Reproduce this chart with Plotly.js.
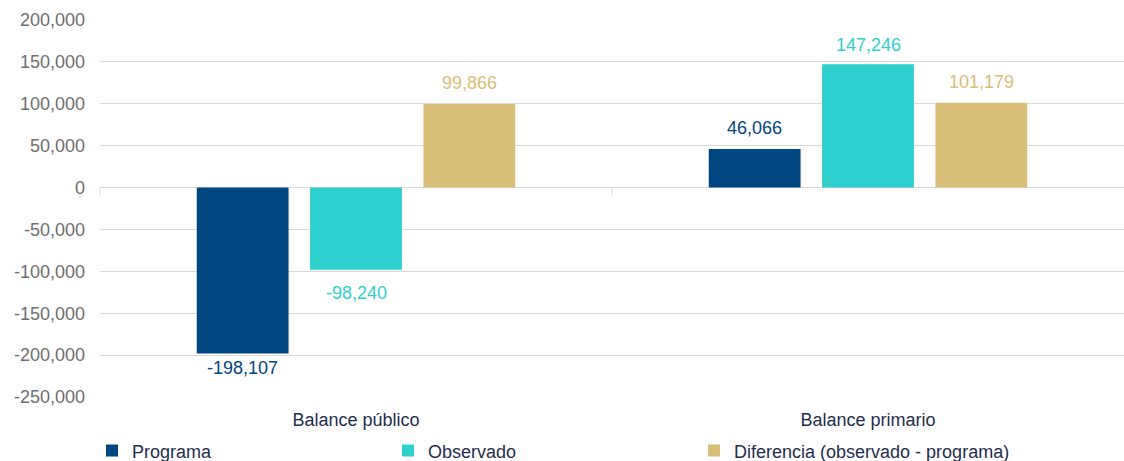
<!DOCTYPE html>
<html><head><meta charset="utf-8">
<script src="https://cdn.plot.ly/plotly-3.0.1.min.js"></script>
<style>html,body{margin:0;padding:0;background:#fff}#c{width:1124px;height:461px}</style>
</head><body><div id="c"></div>
<script>
const categories = ["Balance público", "Balance primario"];
const programa = [-198107, 46066];
const observado = [-98240, 147246];
const diferencia = [99866, 101179];
const seriesNames = ["Programa", "Observado", "Diferencia (observado - programa)"];
const tickVals = [200000,150000,100000,50000,0,-50000,-100000,-150000,-200000,-250000];
const tickText = ["200,000","150,000","100,000","50,000","0","-50,000","-100,000","-150,000","-200,000","-250,000"];

const colors = ["#004681", "#2ECFCD", "#D9BE77"];
const FONT = 'Liberation Sans, Arial, sans-serif';
const fmt = v => v.toLocaleString('en-US');
const vals = [programa, observado, diferencia];

const W = 1124, H = 461, ML = 100, MR = 0, MT = 20, MB = 64;
const bargap = 0.336;
const plotW = W - ML - MR;
const slotPx = plotW / categories.length * (1 - bargap) / vals.length;
// vertical distance (px) of each value label's centre from the bar end, per series / category
const labelShift = [[14, 21], [23, 19], [21, 21]];
// left edge (paper fraction) of each legend entry
const legendX = [-0.0078, 0.2812, 0.5801];
const legendIds = ['legend', 'legend2', 'legend3'];

const traces = vals.map((v, i) => ({
  type: 'bar', name: seriesNames[i], x: categories, y: v,
  marker: {color: colors[i], line: {width: 0}},
  legend: legendIds[i],
  hoverinfo: 'x+y'
}));

const annotations = [];
vals.forEach((v, i) => v.forEach((val, j) => {
  annotations.push({
    x: categories[j], y: val, xref: 'x', yref: 'y',
    xshift: (i - (vals.length - 1) / 2) * slotPx,
    yshift: (val >= 0 ? 1 : -1) * labelShift[i][j],
    yanchor: 'middle', xanchor: 'center', showarrow: false,
    text: fmt(val), font: {family: FONT, size: 18, color: colors[i]}
  });
}));

const layout = {
  width: W, height: H,
  margin: {l: ML, r: MR, t: MT, b: MB, autoexpand: false},
  paper_bgcolor: '#fff', plot_bgcolor: '#fff',
  barmode: 'group', bargap: bargap, bargroupgap: 0.19,
  font: {family: FONT},
  xaxis: {
    tickfont: {size: 18, color: '#1F2D4E'}, showgrid: false, showline: false,
    ticks: '', automargin: false, ticklabelstandoff: 10
  },
  yaxis: {
    range: [-250000, 200000], tickvals: tickVals, ticktext: tickText,
    tickfont: {size: 18, color: '#6E6E6E'}, gridcolor: '#D9D9D9', gridwidth: 1,
    zeroline: true, zerolinecolor: '#D9D9D9', zerolinewidth: 1.5,
    showline: false, ticks: '', ticklabelstandoff: 14, automargin: false
  },
  shapes: [
    {type: 'line', xref: 'x', yref: 'y', x0: 0.5, x1: 0.5, y0: 0, y1: -9000, line: {color: '#D9D9D9', width: 1}},
    {type: 'line', xref: 'paper', yref: 'y', x0: 0, x1: 0, y0: 0, y1: -9000, line: {color: '#D9D9D9', width: 1}}
  ],
  annotations: annotations,
  showlegend: true
};
legendIds.forEach((id, i) => {
  layout[id] = {
    orientation: 'h', x: legendX[i], xanchor: 'left', y: -0.143, yanchor: 'middle',
    font: {size: 18, color: '#1F2D4E'}, itemwidth: 30, bgcolor: 'rgba(0,0,0,0)'
  };
});
Plotly.newPlot('c', traces, layout, {displayModeBar: false, staticPlot: true});
</script></body></html>
